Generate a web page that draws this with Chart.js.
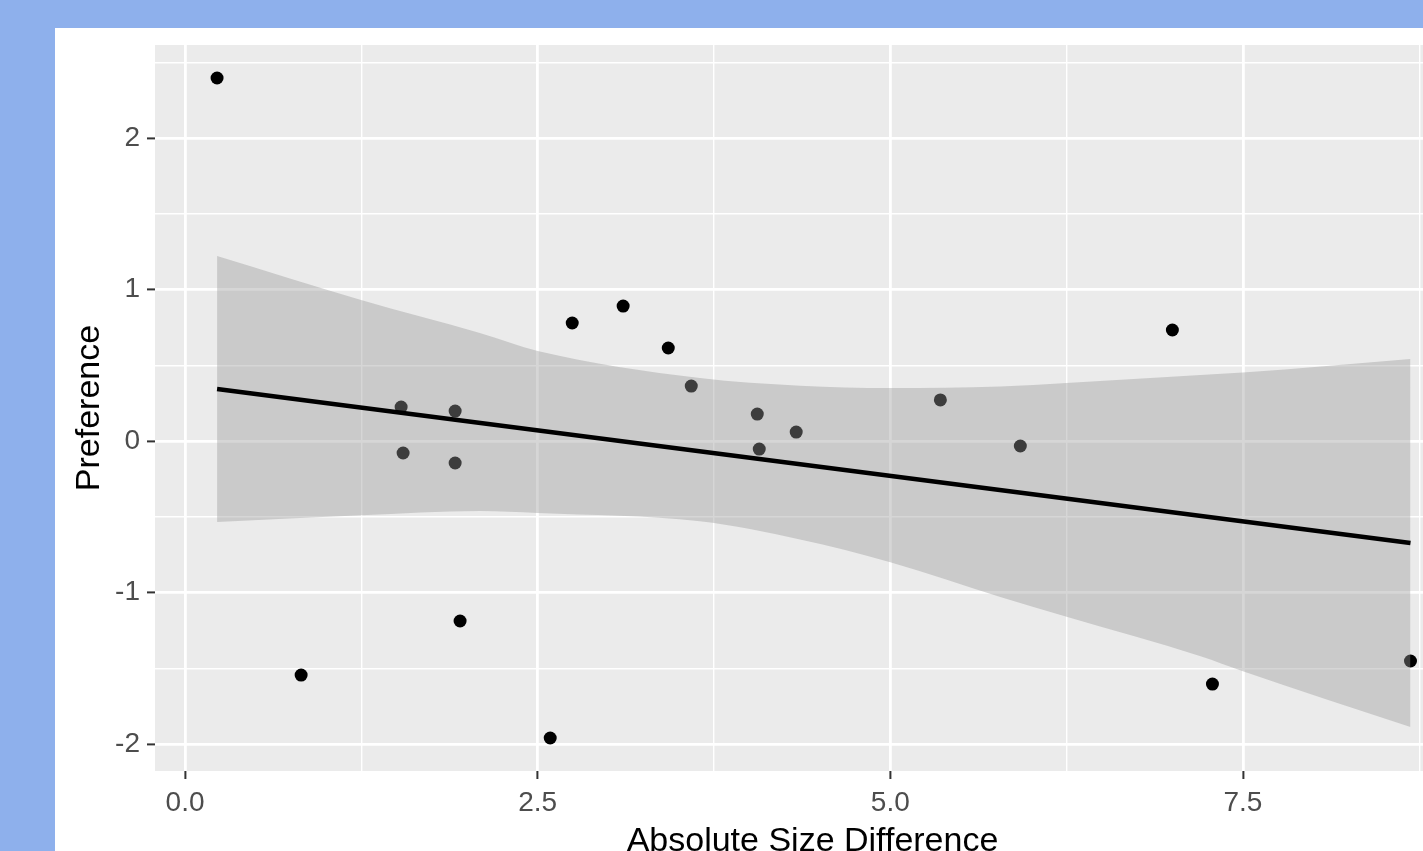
<!DOCTYPE html>
<html>
<head>
<meta charset="utf-8">
<script src="https://cdn.jsdelivr.net/npm/chart.js@4.4.1/dist/chart.umd.min.js"></script>
<style>
  html, body { margin: 0; padding: 0; overflow: hidden; }
  body { width: 1423px; height: 851px; background: #8eb0ec; position: relative; }
  #panel { position: absolute; left: 55px; top: 28px; width: 1480px; height: 845px; background: #ffffff; }
  #plot { position: absolute; left: 0; top: 0; }
</style>
</head>
<body>
<div id="panel"><canvas id="plot" width="1480" height="845"></canvas></div>
<script>
// observed points
var sizeDiff   = [0.227, 0.823, 1.532, 1.546, 1.915, 1.915, 1.95, 2.589, 2.745, 3.106, 3.426, 3.589, 4.057, 4.071, 4.333, 5.355, 5.922, 7.0, 7.284, 8.688];
var preference = [2.396, -1.545, 0.224, -0.079, 0.198, -0.145, -1.188, -1.96, 0.779, 0.891, 0.614, 0.363, 0.178, -0.053, 0.059, 0.271, -0.033, 0.733, -1.604, -1.452];

// fitted line (lm) end points
var fitX = [0.227, 8.688];
var fitY = [0.343, -0.673];

// confidence band
var bandX     = [0.227, 1.248, 2.09, 2.5, 3.65, 4.36, 5.0, 5.78, 6.25, 7.2, 7.5, 8.688];
var bandUpper = [1.221, 0.931, 0.713, 0.595, 0.416, 0.365, 0.35, 0.36, 0.383, 0.436, 0.452, 0.541];
var bandLower = [-0.535, -0.49, -0.462, -0.475, -0.53, -0.65, -0.8, -1.03, -1.16, -1.42, -1.52, -1.888];

// axes
var xTickVals = [0, 2.5, 5, 7.5];
var xTickLabels = ['0.0', '2.5', '5.0', '7.5'];
var xMinorVals = [1.25, 3.75, 6.25, 8.75];
var yTickVals = [-2, -1, 0, 1, 2];
var yTickLabels = ['-2', '-1', '0', '1', '2'];
var yMinorVals = [-1.5, -0.5, 0.5, 1.5, 2.5];

function pairs(xs, ys) {
    return xs.map(function (x, i) { return { x: x, y: ys[i] }; });
}

var panelBg = {
    id: 'panelBg',
    beforeDraw: function (chart) {
        var a = chart.chartArea, ctx = chart.ctx;
        ctx.save();
        ctx.fillStyle = '#ebebeb';
        ctx.fillRect(a.left, a.top, a.right - a.left, a.bottom - a.top);
        ctx.restore();
    }
};

function axisOpts(major, labels, minor, min, max, title, titlePad, fitFn) {
    return {
        type: 'linear',
        min: min,
        max: max,
        afterBuildTicks: function (scale) {
            scale.ticks = major.concat(minor).sort(function (a, b) { return a - b; })
                .map(function (v) { return { value: v }; });
        },
        afterFit: fitFn,
        border: { display: false },
        grid: {
            color: '#ffffff',
            lineWidth: function (c) { return c.tick && major.indexOf(c.tick.value) >= 0 ? 2.8 : 1.4; },
            tickColor: function (c) { return c.tick && major.indexOf(c.tick.value) >= 0 ? '#333333' : 'rgba(0,0,0,0)'; },
            tickLength: 8,
            tickWidth: 2
        },
        ticks: {
            autoSkip: false,
            maxRotation: 0,
            padding: 7,
            color: '#4d4d4d',
            font: { family: 'Liberation Sans', size: 28 },
            callback: function (v) {
                var i = major.indexOf(v);
                return i >= 0 ? labels[i] : '';
            }
        },
        title: {
            display: true,
            text: title,
            color: '#000000',
            font: { family: 'Liberation Sans', size: 34 },
            padding: titlePad
        }
    };
}

var ctx = document.getElementById('plot').getContext('2d');
var chart = new Chart(ctx, {
    type: 'line',
    data: {
        datasets: [{
            label: 'fit',
            data: pairs(fitX, fitY),
            borderColor: '#000000',
            borderWidth: 4.5,
            pointRadius: 0,
            fill: false,
            order: 0
        }, {
            label: 'upper',
            data: pairs(bandX, bandUpper),
            borderWidth: 0,
            borderColor: 'rgba(0,0,0,0)',
            backgroundColor: 'rgba(153,153,153,0.4)',
            pointRadius: 0,
            cubicInterpolationMode: 'monotone',
            fill: '+1',
            order: 1
        }, {
            label: 'lower',
            data: pairs(bandX, bandLower),
            borderWidth: 0,
            borderColor: 'rgba(0,0,0,0)',
            pointRadius: 0,
            cubicInterpolationMode: 'monotone',
            fill: false,
            order: 2
        }, {
            label: 'points',
            data: pairs(sizeDiff, preference),
            showLine: false,
            pointRadius: 6.5,
            pointBorderWidth: 0,
            pointBackgroundColor: '#000000',
            order: 3
        }]
    },
    options: {
        responsive: false,
        animation: false,
        layout: { padding: { top: 17, right: 65, left: 0, bottom: 0 } },
        plugins: { legend: { display: false }, tooltip: { enabled: false } },
        scales: {
            x: axisOpts(xTickVals, xTickLabels, xMinorVals, -0.213, 9.11, 'Absolute Size Difference',
                { top: 0, bottom: 10.6 },
                function (s) { s.height = 102; s.paddingLeft = 0; s.paddingRight = 0; }),
            y: axisOpts(yTickVals, yTickLabels, yMinorVals, -2.178, 2.614, 'Preference',
                { top: 14, bottom: 0 },
                function (s) { s.width = 100; s.paddingTop = 0; s.paddingBottom = 0; })
        }
    },
    plugins: [panelBg]
});
</script>
</body>
</html>
